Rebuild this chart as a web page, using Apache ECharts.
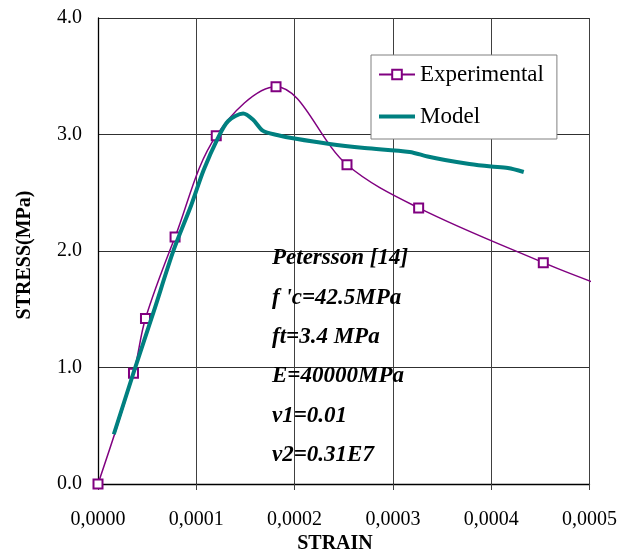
<!DOCTYPE html>
<html>
<head>
<meta charset="utf-8">
<script src="https://cdn.jsdelivr.net/npm/echarts@6/dist/echarts.min.js"></script>
<style>
  html, body { margin: 0; padding: 0; background: #ffffff; }
  #chart { width: 620px; height: 558px; }
</style>
</head>
<body>
<div id="chart"></div>
<script>
// Experimental stress-strain curve (Petersson)
const expStrain = [0, 0.0000361, 0.0000483, 0.0000784, 0.0001203, 0.0001811, 0.0002533, 0.0003262, 0.0004530, 0.0005042];
const expStress = [0, 0.95, 1.42, 2.12, 2.99, 3.41, 2.74, 2.37, 1.90, 1.73];
// the last experimental point is drawn without a marker
const expMarked = [true, true, true, true, true, true, true, true, true, false];

// Model prediction
const modelStrain = [0.0000161, 0.0000361, 0.0000564, 0.0000770, 0.0000949, 0.0001075, 0.0001217, 0.0001325,
                     0.0001477, 0.0001573, 0.0001680, 0.0001822, 0.0002000, 0.0002356, 0.0002712, 0.0003170,
                     0.0003353, 0.0003530, 0.0003779, 0.0004000, 0.0004170, 0.0004331];
const modelStress = [0.427, 0.953, 1.473, 2.009, 2.395, 2.695, 2.965, 3.116,
                     3.180, 3.131, 3.031, 2.996, 2.965, 2.918, 2.884, 2.850,
                     2.811, 2.781, 2.747, 2.725, 2.712, 2.678];

// Axis tick labels
const xTickLabels = ['0,0000', '0,0001', '0,0002', '0,0003', '0,0004', '0,0005'];
const yTickLabels = ['0.0', '1.0', '2.0', '3.0', '4.0'];

// Annotation block
const noteLines = ['Petersson [14]', "f 'c=42.5MPa", 'ft=3.4 MPa', 'E=40000MPa', 'v1=0.01', 'v2=0.31E7'];

const seriesNames = ['Experimental', 'Model'];
const purple = '#800080';
const teal = '#008080';
const serif = '"Liberation Serif", "Times New Roman", serif';

const expData = expStrain.map((x, i) =>
  expMarked[i] ? [x, expStress[i]] : { value: [x, expStress[i]], symbol: 'none' });
const modelData = modelStrain.map((x, i) => [x, modelStress[i]]);

const chart = echarts.init(document.getElementById('chart'), null, { renderer: 'canvas' });

const noteGraphics = noteLines.map((t, i) => ({
  type: 'text',
  left: 272,
  top: 247 + i * 39.3,
  z: 100,
  style: {
    text: t,
    font: 'italic bold 23px ' + serif,
    fill: '#000'
  }
}));

chart.setOption({
  animation: false,
  backgroundColor: '#ffffff',
  grid: { left: 98, right: 29, top: 18, bottom: 74, containLabel: false },
  xAxis: {
    type: 'value',
    min: 0,
    max: 0.0005,
    interval: 0.0001,
    axisLine: { show: true, onZero: false, lineStyle: { color: '#000', width: 1.3 } },
    axisTick: { show: true, inside: false, length: 6, lineStyle: { color: '#404040' } },
    axisLabel: {
      margin: 26,
      fontFamily: serif,
      fontSize: 20,
      color: '#000',
      formatter: (v) => xTickLabels[Math.round(v / 0.0001)]
    },
    splitLine: { show: true, lineStyle: { color: '#404040', width: 1 } }
  },
  yAxis: {
    type: 'value',
    min: 0,
    max: 4,
    interval: 1,
    axisLine: { show: true, onZero: false, lineStyle: { color: '#000', width: 1.3 } },
    axisTick: { show: false },
    axisLabel: {
      margin: 16,
      fontFamily: serif,
      fontSize: 20,
      color: '#000',
      formatter: (v) => yTickLabels[Math.round(v)]
    },
    splitLine: { show: true, lineStyle: { color: '#303030', width: 1 } }
  },
  legend: {
    orient: 'vertical',
    left: 371,
    top: 55,
    padding: [8, 13, 11, 6],
    itemGap: 19,
    itemWidth: 36,
    itemHeight: 12,
    backgroundColor: '#ffffff',
    borderColor: '#808080',
    borderWidth: 1,
    borderRadius: 0,
    textStyle: { fontFamily: serif, fontSize: 23, color: '#000', padding: [0, 0, 0, 0] },
    data: [
      { name: seriesNames[0] },
      { name: seriesNames[1], itemStyle: { opacity: 0 }, lineStyle: { width: 4, color: teal } }
    ]
  },
  series: [
    {
      name: seriesNames[0],
      type: 'line',
      data: expData,
      smooth: 0.35,
      clip: false,
      symbol: 'emptyRect',
      symbolSize: 9,
      showAllSymbol: true,
      lineStyle: { color: purple, width: 1.5 },
      itemStyle: { color: purple, borderColor: purple, borderWidth: 1.5 },
      z: 2
    },
    {
      name: seriesNames[1],
      type: 'line',
      data: modelData,
      smooth: 0.3,
      symbol: 'none',
      lineStyle: { color: teal, width: 4 },
      itemStyle: { color: teal },
      z: 3
    }
  ],
  graphic: [
    {
      type: 'text',
      x: 335,
      y: 544,
      z: 100,
      style: {
        text: 'STRAIN',
        font: 'bold 20px ' + serif,
        fill: '#000',
        align: 'center',
        verticalAlign: 'middle'
      }
    },
    {
      type: 'text',
      x: 25,
      y: 255,
      rotation: Math.PI / 2,
      z: 100,
      style: {
        text: 'STRESS(MPa)',
        font: 'bold 20px ' + serif,
        fill: '#000',
        align: 'center',
        verticalAlign: 'middle'
      }
    }
  ].concat(noteGraphics)
});
</script>
</body>
</html>
